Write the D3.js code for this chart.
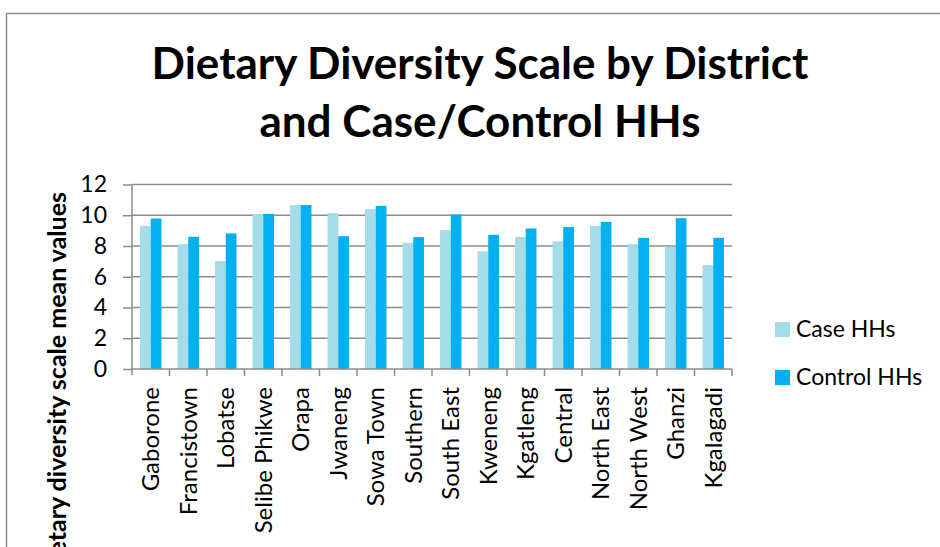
<!DOCTYPE html>
<html>
<head>
<meta charset="utf-8">
<script src="https://cdn.jsdelivr.net/npm/d3@7"></script>
<style>
    body { margin: 0; background: #fff; }
    text { font-family: Lato, "Open Sans", sans-serif; fill: #000; }
    .grid line { stroke: #8c8c8c; stroke-width: 1.5; }
    .axis path, .axis line { stroke: #8c8c8c; stroke-width: 1.5; }
    .axis text { font-size: 23px; }
</style>
</head>
<body>
<script>
// chart data
var districts = ["Gaborone", "Francistown", "Lobatse", "Selibe Phikwe", "Orapa",
                 "Jwaneng", "Sowa Town", "Southern", "South East", "Kweneng",
                 "Kgatleng", "Central", "North East", "North West", "Ghanzi", "Kgalagadi"];
var seriesNames = ["Case HHs", "Control HHs"];
var caseValues = [9.31, 8.12, 7.02, 10.07, 10.66, 10.14, 10.4, 8.21,
                  9.03, 7.65, 8.58, 8.3, 9.31, 8.12, 7.95, 6.76];
var controlValues = [9.79, 8.6, 8.82, 10.09, 10.66, 8.64, 10.61, 8.58,
                     10.05, 8.73, 9.14, 9.23, 9.57, 8.53, 9.81, 8.53];
var yTicks = [0, 2, 4, 6, 8, 10, 12];
var colors = ["#a5dce9", "#00b0f0"];

(function(){
    var width = 940, height = 547;
    var plotLeft = 132, plotRight = 732, plotTop = 184.5, plotBottom = 369;

    var svg = d3.select("body").append("svg")
        .attr("width", width)
        .attr("height", height);

    //chart frame border
    svg.append("rect")
        .attr("x", 6.5).attr("y", 13.5)
        .attr("width", 960).attr("height", 560)
        .attr("fill", "none")
        .attr("stroke", "#8c8c8c")
        .attr("stroke-width", 1.5);

    //title
    var title = svg.append("text")
        .attr("text-anchor", "middle")
        .style("font-size", "44px")
        .style("font-weight", "bold");
    title.append("tspan").attr("x", 480).attr("y", 79).text("Dietary Diversity Scale by District");
    title.append("tspan").attr("x", 480).attr("y", 137).text("and Case/Control HHs");

    //scales
    var x0 = d3.scaleBand()
        .domain(districts)
        .range([plotLeft, plotRight]);
    var x1 = d3.scaleBand()
        .domain(seriesNames)
        .range([0, x0.bandwidth()])
        .paddingOuter(0.75);
    var y = d3.scaleLinear()
        .domain([0, 12])
        .range([plotBottom, plotTop]);

    //gridlines
    svg.append("g").attr("class", "grid")
        .selectAll("line")
        .data(yTicks.filter(function(d){ return d > 0; }))
        .enter().append("line")
        .attr("x1", plotLeft).attr("x2", plotRight)
        .attr("y1", function(d){ return y(d); })
        .attr("y2", function(d){ return y(d); });

    //bars
    var rows = districts.map(function(d, i){
        return {district: d, values: [caseValues[i], controlValues[i]]};
    });
    var groups = svg.selectAll(".group")
        .data(rows)
        .enter().append("g")
        .attr("class", "group")
        .attr("transform", function(d){ return "translate(" + x0(d.district) + ",0)"; });
    groups.selectAll("rect")
        .data(function(d){
            return d.values.map(function(v, i){ return {series: seriesNames[i], value: v, idx: i}; });
        })
        .enter().append("rect")
        .attr("x", function(d){ return x1(d.series); })
        .attr("width", x1.bandwidth())
        .attr("y", function(d){ return y(d.value); })
        .attr("height", function(d){ return plotBottom - y(d.value); })
        .attr("fill", function(d){ return colors[d.idx]; });

    //y axis
    var yAxis = d3.axisLeft(y)
        .tickValues(yTicks)
        .tickSize(9)
        .tickPadding(16)
        .tickFormat(d3.format("d"));
    svg.append("g")
        .attr("class", "axis")
        .attr("transform", "translate(" + plotLeft + ",0)")
        .call(yAxis)
        .call(function(g){ g.select(".domain").remove(); });
    svg.append("line")
        .attr("x1", plotLeft).attr("x2", plotLeft)
        .attr("y1", plotTop).attr("y2", plotBottom + 6)
        .attr("stroke", "#8c8c8c").attr("stroke-width", 1.5);

    //x axis line and boundary ticks
    svg.append("line")
        .attr("x1", plotLeft).attr("x2", plotRight)
        .attr("y1", plotBottom).attr("y2", plotBottom)
        .attr("stroke", "#8c8c8c").attr("stroke-width", 1.5);
    svg.selectAll(".xtick")
        .data(districts)
        .enter().append("line")
        .attr("class", "xtick")
        .attr("x1", function(d){ return x0(d) + x0.bandwidth(); })
        .attr("x2", function(d){ return x0(d) + x0.bandwidth(); })
        .attr("y1", plotBottom).attr("y2", plotBottom + 7)
        .attr("stroke", "#8c8c8c").attr("stroke-width", 1.5);

    //x labels, rotated
    svg.selectAll(".xlabel")
        .data(districts)
        .enter().append("text")
        .attr("class", "xlabel")
        .attr("text-anchor", "end")
        .attr("dy", "0.35em")
        .style("font-size", "24px")
        .attr("transform", function(d){
            return "translate(" + (x0(d) + x0.bandwidth() / 2) + "," + 387 + ") rotate(-90)";
        })
        .text(function(d){ return d; });

    //y axis title (runs past the bottom edge, as in the original)
    svg.append("text")
        .attr("text-anchor", "end")
        .style("font-size", "25px")
        .style("font-weight", "bold")
        .attr("transform", "translate(66,192) rotate(-90)")
        .text("Dietary diversity scale mean values");

    //legend
    var legend = svg.selectAll(".legend")
        .data(seriesNames)
        .enter().append("g")
        .attr("class", "legend")
        .attr("transform", function(d, i){ return "translate(775," + (322 + i * 48) + ")"; });
    legend.append("rect")
        .attr("width", 15).attr("height", 15)
        .attr("fill", function(d, i){ return colors[i]; });
    legend.append("text")
        .attr("x", 21).attr("y", 15)
        .style("font-size", "23px")
        .text(function(d){ return d; });
})();
</script>
</body>
</html>
